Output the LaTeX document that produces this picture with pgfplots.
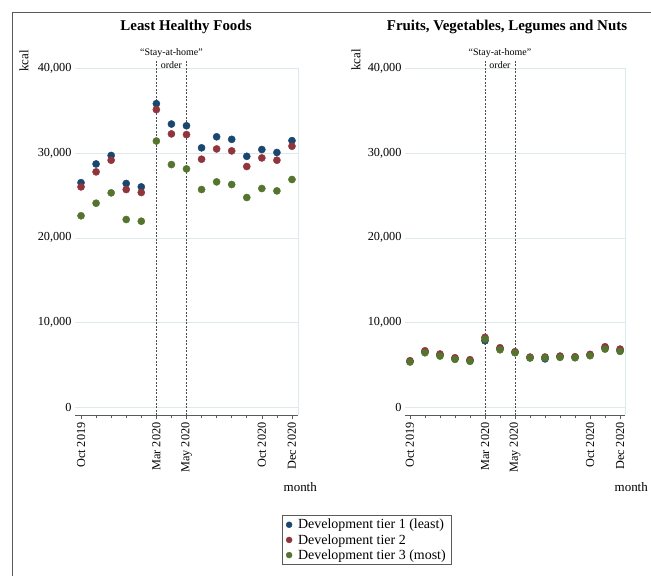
\documentclass[border=0pt]{standalone}
\usepackage{pgfplots}
\pgfplotsset{compat=1.18}
\usepackage{fontspec}
\setmainfont{Liberation Serif}
\definecolor{tone}{RGB}{26,71,111}
\definecolor{ttwo}{RGB}{144,53,59}
\definecolor{tthree}{RGB}{85,117,47}
\definecolor{gridcol}{RGB}{222,233,238}
\definecolor{axcol}{RGB}{90,90,90}

\pgfplotstableread{
m a b c
0 26500 26000 22600
1 28700 27770 24080
2 29700 29140 25300
3 26400 25690 22160
4 26000 25340 21960
5 35800 35100 31400
6 33400 32240 28630
7 33200 32160 28120
8 30600 29260 25690
9 31900 30470 26590
10 31600 30240 26280
11 29600 28400 24750
12 30400 29410 25810
13 30050 29140 25530
14 31450 30790 26870
}\leastdata

\pgfplotstableread{
m a b c
0 5450 5530 5380
1 6580 6700 6470
2 6200 6320 6080
3 5780 5880 5690
4 5550 5650 5460
5 7880 8280 8080
6 6940 7060 6820
7 6530 6590 6470
8 5900 5960 5850
9 5750 5970 5880
10 6000 6080 5930
11 5940 6000 5880
12 6200 6280 6120
13 7040 7180 6900
14 6760 6900 6630
}\fruitdata

\tikzset{stay/.style={draw=black!70, line width=0.6pt, dash pattern=on 2pt off 1.5pt}}

\pgfplotsset{
  panel/.style={
    scale only axis, height=347bp,
    ymin=-860, ymax=40000,
    axis lines*=left,
    y axis line style={draw=none},
    x axis line style={draw=axcol, line width=0.8pt},
    ytick={0,10000,20000,30000,40000},
    ytick style={draw=none},
    scaled y ticks=false,
    /pgf/number format/1000 sep={,},
    /pgf/number format/assume math mode=true,
    ymajorgrids, grid style={gridcol, line width=0.7pt},
    xtick={0,5,7,12,14},
    xticklabels={Oct 2019, Mar 2020, May 2020, Oct 2020, Dec 2020},
    minor xtick={0,1,...,14},
    xtick align=outside,
    major tick length=4bp, minor tick length=3bp,
    xtick style={draw=axcol, line width=0.6pt},
    xticklabel style={rotate=90, anchor=east},
    tick label style={font=\fontsize{12.3}{14}\selectfont},
    clip=false,
  },
  dots/.style={only marks, mark=*, mark size=3.6pt, color=#1, mark options={fill=#1, draw=#1}},
}

\begin{document}
\begin{tikzpicture}
\useasboundingbox (0,0) rectangle (651bp,-576bp);
\draw[axcol, line width=0.8pt] (12bp,-576bp) -- (12bp,-12bp) -- (651bp,-12bp);

\begin{axis}[panel, at={(75bp,-415bp)}, anchor=south west,
  width=223bp, xmin=-0.4, xmax=14.4,
  legend style={at={(1.309,-0.360)}, anchor=center, draw=axcol,
    font=\fontsize{14}{16.5}\selectfont, inner xsep=4pt, inner ysep=2pt,
    cells={anchor=west},
    /tikz/every odd column/.append style={column sep=4pt}},
  legend image code/.code={\draw[#1, mark size=3pt] plot coordinates {(0.1cm,0cm)};},
]
\draw[gridcol, line width=0.7pt] (rel axis cs:1,0) -- (rel axis cs:1,1);
\draw[stay] (axis cs:5,-860) -- (axis cs:5,41000);
\draw[stay] (axis cs:7,-860) -- (axis cs:7,41000);
\node[font=\fontsize{10}{12}\selectfont] at (axis cs:6,41770) {“Stay-at-home”};
\node[font=\fontsize{10}{12}\selectfont] at (axis cs:6,40354) {order};
\addplot[dots=tone] table[x=m, y=a] {\leastdata};
\addlegendentry{Development tier 1 (least)}
\addplot[dots=ttwo] table[x=m, y=b] {\leastdata};
\addlegendentry{Development tier 2}
\addplot[dots=tthree] table[x=m, y=c] {\leastdata};
\addlegendentry{Development tier 3 (most)}
\end{axis}

\begin{axis}[panel, at={(405bp,-415bp)}, anchor=south west,
  width=220bp, xmin=-0.33, xmax=14.33]
\draw[gridcol, line width=0.7pt] (rel axis cs:1,0) -- (rel axis cs:1,1);
\draw[stay] (axis cs:5,-860) -- (axis cs:5,41000);
\draw[stay] (axis cs:7,-860) -- (axis cs:7,41000);
\node[font=\fontsize{10}{12}\selectfont] at (axis cs:6,41770) {“Stay-at-home”};
\node[font=\fontsize{10}{12}\selectfont] at (axis cs:6,40354) {order};
\addplot[dots=tone] table[x=m, y=a] {\fruitdata};
\addplot[dots=ttwo] table[x=m, y=b] {\fruitdata};
\addplot[dots=tthree] table[x=m, y=c] {\fruitdata};
\end{axis}

\node[font=\bfseries\fontsize{15}{18}\selectfont] at (186bp,-27bp) {Least Healthy Foods};
\node[font=\bfseries\fontsize{15}{18}\selectfont] at (507bp,-27bp) {Fruits, Vegetables, Legumes and Nuts};
\node[rotate=90, font=\fontsize{13}{15}\selectfont] at (24bp,-61bp) {kcal};
\node[rotate=90, font=\fontsize{13}{15}\selectfont] at (356bp,-60bp) {kcal};
\node[anchor=east, font=\fontsize{13}{15}\selectfont, inner sep=0pt] at (317bp,-487bp) {month};
\node[anchor=east, font=\fontsize{13}{15}\selectfont, inner sep=0pt] at (648bp,-487bp) {month};
\end{tikzpicture}
\end{document}
